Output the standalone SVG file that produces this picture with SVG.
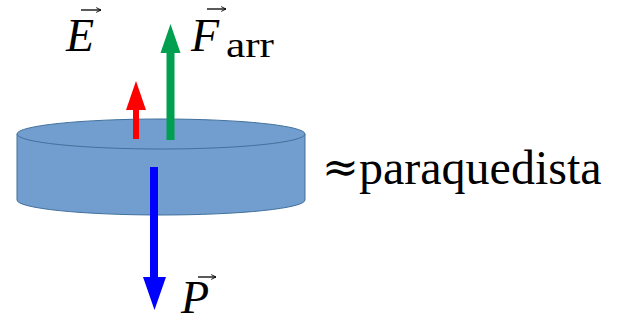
<svg xmlns="http://www.w3.org/2000/svg" width="618" height="323" viewBox="0 0 618 323">
<style>
.vec{stroke:#000;stroke-width:1.3;fill:none}
</style>
<defs>
<marker id="vh" viewBox="0 0 10 10" refX="9" refY="5" markerWidth="6" markerHeight="6" markerUnits="userSpaceOnUse" orient="auto">
<path d="M1,1 L9,5 L1,9" fill="none" stroke="#000" stroke-width="1.5"/>
</marker>
</defs>
<g id="paraquedista">
<path d="M17,134 L17,200 A144,15 0 0 0 305,200 L305,134 Z" fill="#719ece" stroke="#41719c" stroke-width="1"/>
<ellipse cx="161" cy="134" rx="144" ry="15" fill="#719ece" stroke="#41719c" stroke-width="1"/>
</g>
<g id="connectors">
<path d="M133,139 L133,110 L126,110 L136,81 L146,110 L139,110 L139,139 Z" fill="#ff0000"/>
<path d="M166.5,140 L166.5,53 L160.5,53 L170.5,24 L180.5,53 L174.5,53 L174.5,140 Z" fill="#00a050"/>
<path d="M150,167 L150,277 L143,277 L154.5,310 L166,277 L158,277 L158,167 Z" fill="#0000ff"/>
</g>
<g id="label-E">
<text x="66" y="51" font-family="Liberation Serif" font-size="46" font-style="italic">E</text>
<line class="vec" x1="81" y1="10" x2="101" y2="10" marker-end="url(#vh)"/>
</g>
<g id="label-F">
<text x="191" y="51" font-family="Liberation Serif" font-size="46" font-style="italic">F</text>
<text x="226" y="57" font-family="Liberation Serif" font-size="36" textLength="48" lengthAdjust="spacingAndGlyphs">arr</text>
<line class="vec" x1="207" y1="9" x2="226" y2="9" marker-end="url(#vh)"/>
</g>
<g id="label-P">
<text x="181" y="313" font-family="Liberation Serif" font-size="46" font-style="italic">P</text>
<line class="vec" x1="198" y1="277" x2="216" y2="277" marker-end="url(#vh)"/>
</g>
<g id="label-paraquedista">
<text x="322" y="182" font-family="DejaVu Serif" font-size="44">≈</text>
<text x="359" y="184" font-family="Liberation Serif" font-size="48">paraquedista</text>
</g>
</svg>
